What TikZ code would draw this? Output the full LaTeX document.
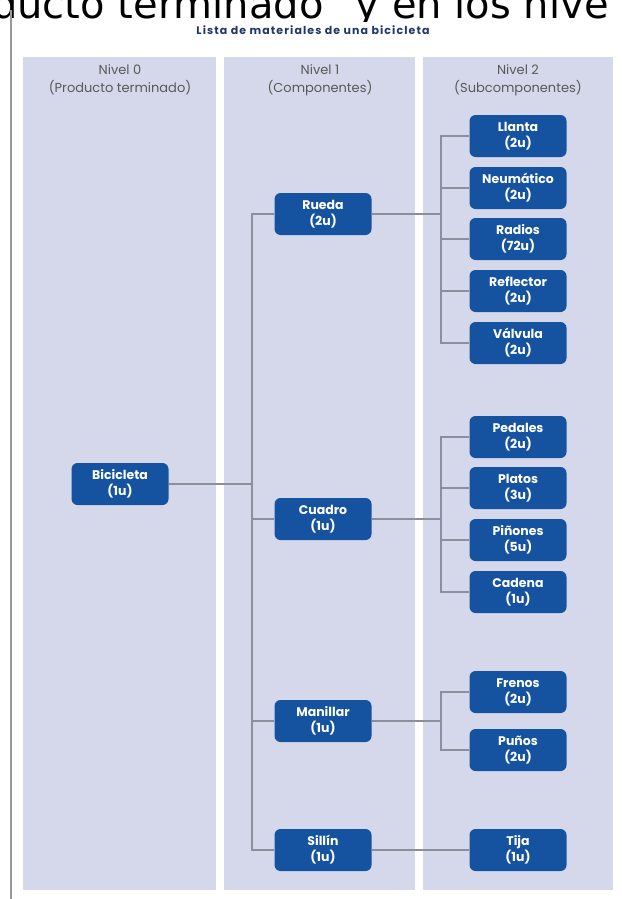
\documentclass[tikz,border=0pt]{standalone}
\usepackage{fontspec}
\setmainfont{Poppins}
\newfontfamily\topfont{DejaVu Sans}
\definecolor{colfill}{RGB}{213,216,235}
\definecolor{boxblue}{RGB}{21,82,160}
\definecolor{linegray}{RGB}{140,142,155}
\definecolor{titlenavy}{RGB}{30,55,110}

\begin{document}
\begin{tikzpicture}[x=1pt,y=-1pt,
  conn/.style={draw=linegray,line width=1.1pt},
  elbow/.style={to path={|- (\tikztotarget) \tikztonodes}},
  part/.style={rectangle,rounded corners=6pt,fill=boxblue,text=white,font=\bfseries\fontsize{12.5}{16}\selectfont,align=center,minimum width=97pt,minimum height=42pt,inner sep=0pt},
  head/.style={text=black!65,font=\fontsize{13}{18}\selectfont,align=center}]
  \useasboundingbox (0,0) rectangle (621,899);

  \begin{scope}
    \clip (0,0) rectangle (621,22);
    \node[anchor=base west,inner sep=0pt,font=\topfont\fontsize{40}{44}\selectfont] (cut) at (-8,19) {ducto terminado” y en los nive};
  \end{scope}
  \draw[line width=2pt,black!40] (11,10) -- (11,899);

  \node[font=\bfseries\fontsize{11}{13}\selectfont\addfontfeatures{LetterSpace=10},text=titlenavy] (title) at (313,30) {Lista de materiales de una bicicleta};

  \fill[colfill] (23,57) rectangle (216,890);
  \fill[colfill] (224,57) rectangle (415,890);
  \fill[colfill] (423,57) rectangle (613,890);

  \node[head] (h0) at (120,80) {Nivel 0\\(Producto terminado)};
  \node[head] (h1) at (320,80) {Nivel 1\\(Componentes)};
  \node[head] (h2) at (518,80) {Nivel 2\\(Subcomponentes)};

  \node[part] (bici) at (120,484) {Bicicleta\\(1u)};

  \node[part] (rueda) at (323,214) {Rueda\\(2u)};
  \node[part] (cuadro) at (323,519) {Cuadro\\(1u)};
  \node[part] (manillar) at (323,721) {Manillar\\(1u)};
  \node[part] (sillin) at (323,850) {Sillín\\(1u)};

  \node[part] (llanta) at (518,136) {Llanta\\(2u)};
  \node[part] (neumatico) at (518,188) {Neumático\\(2u)};
  \node[part] (radios) at (518,239) {Radios\\(72u)};
  \node[part] (reflector) at (518,291) {Reflector\\(2u)};
  \node[part] (valvula) at (518,343) {Válvula\\(2u)};
  \node[part] (pedales) at (518,437) {Pedales\\(2u)};
  \node[part] (platos) at (518,488) {Platos\\(3u)};
  \node[part] (pinones) at (518,540) {Piñones\\(5u)};
  \node[part] (cadena) at (518,592) {Cadena\\(1u)};
  \node[part] (frenos) at (518,692) {Frenos\\(2u)};
  \node[part] (punos) at (518,750) {Puños\\(2u)};
  \node[part] (tija) at (518,850) {Tija\\(1u)};

  \coordinate (t1) at (252,484);
  \coordinate (t2a) at (441,214);
  \coordinate (t2b) at (441,519);
  \coordinate (t2c) at (441,721);

\path[conn]
  (bici) edge (t1)
  (t1) edge[elbow] (rueda)
  (t1) edge[elbow] (cuadro)
  (t1) edge[elbow] (manillar)
  (t1) edge[elbow] (sillin)
  (rueda) edge (t2a)
  (t2a) edge[elbow] (llanta)
  (t2a) edge[elbow] (neumatico)
  (t2a) edge[elbow] (radios)
  (t2a) edge[elbow] (reflector)
  (t2a) edge[elbow] (valvula)
  (cuadro) edge (t2b)
  (t2b) edge[elbow] (pedales)
  (t2b) edge[elbow] (platos)
  (t2b) edge[elbow] (pinones)
  (t2b) edge[elbow] (cadena)
  (manillar) edge (t2c)
  (t2c) edge[elbow] (frenos)
  (t2c) edge[elbow] (punos)
  (sillin) edge (tija)
;
\end{tikzpicture}
\end{document}
